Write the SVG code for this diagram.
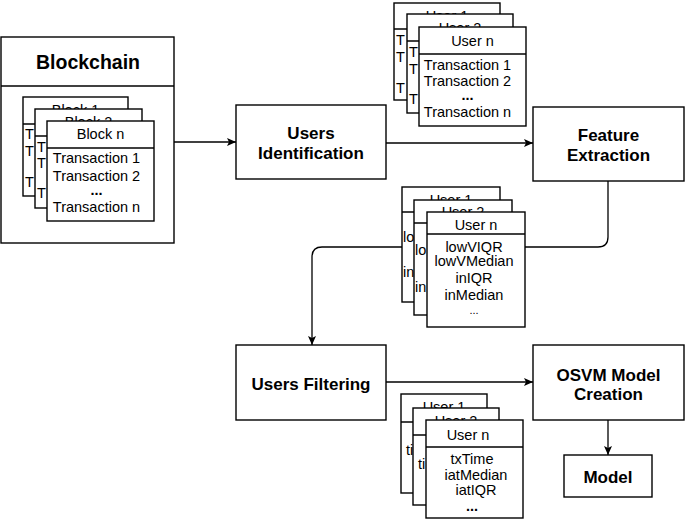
<svg xmlns="http://www.w3.org/2000/svg" width="685" height="520" viewBox="0 0 685 520">
<defs>
<style>
.box{fill:#fff;stroke:#000;stroke-width:1.4}
.ln{fill:none;stroke:#000;stroke-width:1.3}
.con{fill:none;stroke:#000;stroke-width:1.3}
.t{font-family:"Liberation Sans",Arial,Helvetica,sans-serif;font-size:14.5px;fill:#000;text-anchor:middle}
.tl{font-family:"Liberation Sans",Arial,Helvetica,sans-serif;font-size:14.5px;fill:#000}
.b{font-family:"Liberation Sans",Arial,Helvetica,sans-serif;font-size:17px;font-weight:bold;fill:#000;text-anchor:middle}
.dots{font-weight:bold}
.sm{font-size:11px}
</style>
<marker id="arr" viewBox="0 0 9 8" refX="9" refY="4" markerWidth="9" markerHeight="8" markerUnits="userSpaceOnUse" orient="auto">
<path d="M0,0 L9,4 L0,8 L2,4 z" fill="#000"/>
</marker>
</defs>
<rect width="685" height="520" fill="#fff"/>

<g id="connectors">
<path class="con" d="M174 142 H236" marker-end="url(#arr)"/>
<path class="con" d="M386 143 H533" marker-end="url(#arr)"/>
<path class="con" d="M608 181 V237 Q608 247 598 247 H322 Q312 247 312 257 V345" marker-end="url(#arr)"/>
<path class="con" d="M386 382 H533" marker-end="url(#arr)"/>
<path class="con" d="M608 420 V455" marker-end="url(#arr)"/>
</g>

<g id="blockchain">
<rect class="box" x="1" y="37" width="173" height="206"/>
<line class="ln" x1="1" y1="86" x2="174" y2="86"/>
<text class="b" x="88" y="69" style="font-size:19.5px">Blockchain</text>
<g id="block1">
<rect class="box" x="23" y="97" width="105" height="99"/>
<line class="ln" x1="23" y1="124" x2="128" y2="124"/>
<text class="t" x="75.5" y="115">Block 1</text>
<text class="tl" x="25" y="139">T</text>
<text class="tl" x="25" y="156">T</text>
<text class="tl" x="25" y="187">T</text>
</g>
<g id="block2">
<rect class="box" x="35" y="109" width="107" height="99"/>
<line class="ln" x1="35" y1="136" x2="142" y2="136"/>
<text class="t" x="88.5" y="127">Block 2</text>
<text class="tl" x="37" y="152">T</text>
<text class="tl" x="37" y="168">T</text>
<text class="tl" x="37" y="198">T</text>
</g>
<g id="blockn">
<rect class="box" x="47" y="121" width="107" height="100"/>
<line class="ln" x1="47" y1="148" x2="154" y2="148"/>
<text class="t" x="100.5" y="139">Block n</text>
<text class="t" x="96.5" y="163">Transaction 1</text>
<text class="t" x="96.5" y="181">Transaction 2</text>
<text class="t dots" x="96.5" y="195">...</text>
<text class="t" x="96.5" y="212">Transaction n</text>
</g>
</g>

<g id="users-identification">
<rect class="box" x="236" y="105" width="150" height="74"/>
<text class="b" x="311" y="139">Users</text>
<text class="b" x="311" y="159">Identification</text>
</g>

<g id="user-transactions">
<g id="ut-user1">
<rect class="box" x="394" y="3" width="106" height="97"/>
<line class="ln" x1="394" y1="29" x2="500" y2="29"/>
<text class="t" x="447" y="21">User 1</text>
<text class="tl" x="396" y="45">T</text>
<text class="tl" x="396" y="62">T</text>
<text class="tl" x="396" y="93">T</text>
</g>
<g id="ut-user2">
<rect class="box" x="407" y="14" width="106" height="99"/>
<line class="ln" x1="407" y1="41" x2="513" y2="41"/>
<text class="t" x="460" y="33">User 2</text>
<text class="tl" x="409" y="57">T</text>
<text class="tl" x="409" y="74">T</text>
<text class="tl" x="409" y="104">T</text>
</g>
<g id="ut-usern">
<rect class="box" x="419" y="27" width="107" height="99"/>
<line class="ln" x1="419" y1="54" x2="526" y2="54"/>
<text class="t" x="472.5" y="46">User n</text>
<text class="t" x="467.5" y="70">Transaction 1</text>
<text class="t" x="467.5" y="86">Transaction 2</text>
<text class="t dots" x="467.5" y="100">...</text>
<text class="t" x="467.5" y="117">Transaction n</text>
</g>
</g>

<g id="feature-extraction">
<rect class="box" x="533" y="107" width="151" height="74"/>
<text class="b" x="608.5" y="141">Feature</text>
<text class="b" x="608.5" y="161">Extraction</text>
</g>

<g id="user-features">
<g id="uf-user1">
<rect class="box" x="402" y="187" width="98" height="115"/>
<line class="ln" x1="402" y1="212" x2="500" y2="212"/>
<text class="t" x="451" y="205">User 1</text>
<text class="tl" x="403" y="242">lo</text>
<text class="tl" x="403" y="277">in</text>
</g>
<g id="uf-user2">
<rect class="box" x="414" y="200" width="98" height="115"/>
<line class="ln" x1="414" y1="223" x2="512" y2="223"/>
<text class="t" x="463" y="217">User 2</text>
<text class="tl" x="415" y="255">lo</text>
<text class="tl" x="415" y="292">in</text>
</g>
<g id="uf-usern">
<rect class="box" x="427" y="212" width="98" height="115"/>
<line class="ln" x1="427" y1="234" x2="525" y2="234"/>
<text class="t" x="476" y="230">User n</text>
<text class="t" x="474" y="252">lowVIQR</text>
<text class="t" x="474" y="266">lowVMedian</text>
<text class="t" x="474" y="283">inIQR</text>
<text class="t" x="474" y="300">inMedian</text>
<text class="t sm" x="474" y="314">...</text>
</g>
</g>

<g id="users-filtering">
<rect class="box" x="236" y="345" width="150" height="75"/>
<text class="b" x="311" y="390">Users Filtering</text>
</g>

<g id="osvm-model-creation">
<rect class="box" x="533" y="345" width="151" height="75"/>
<text class="b" x="608.5" y="381">OSVM Model</text>
<text class="b" x="608.5" y="400">Creation</text>
</g>

<g id="model">
<rect class="box" x="564" y="455" width="88" height="42"/>
<text class="b" x="608" y="483">Model</text>
</g>

<g id="filtered-users">
<g id="fu-user1">
<rect class="box" x="401" y="394" width="86" height="99"/>
<line class="ln" x1="401" y1="422" x2="487" y2="422"/>
<text class="t" x="444" y="412">User 1</text>
<text class="tl" x="406" y="455">ti</text>
</g>
<g id="fu-user2">
<rect class="box" x="413" y="408" width="86" height="97"/>
<line class="ln" x1="413" y1="435" x2="499" y2="435"/>
<text class="t" x="456" y="426">User 2</text>
<text class="tl" x="418" y="469">ti</text>
</g>
<g id="fu-usern">
<rect class="box" x="426" y="420" width="97" height="98"/>
<line class="ln" x1="426" y1="447" x2="523" y2="447"/>
<text class="t" x="468" y="440">User n</text>
<text class="t" x="472" y="464">txTime</text>
<text class="t" x="476" y="480">iatMedian</text>
<text class="t" x="476" y="495">iatIQR</text>
<text class="t dots" x="472" y="511">...</text>
</g>
</g>
</svg>
